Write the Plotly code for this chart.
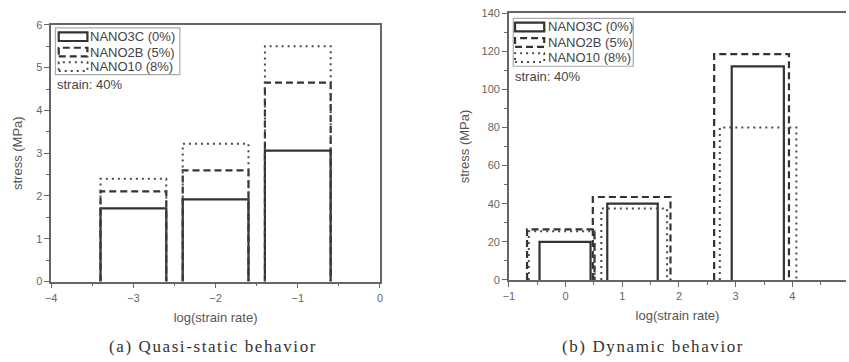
import plotly.graph_objects as go

W, H = 849, 362

series_names = ["NANO3C (0%)", "NANO2B (5%)", "NANO10 (8%)"]

# (a) Quasi-static behavior
qs_log_rate = [-3, -2, -1]
qs_bar_width = [0.8, 0.8, 0.8]
qs_nano3c = [1.71, 1.92, 3.06]
qs_nano2b = [2.11, 2.60, 4.65]
qs_nano10 = [2.40, 3.22, 5.50]

# (b) Dynamic behavior
dyn_log_rate_nano3c = [-0.01, 1.18, 3.39]
dyn_width_nano3c = [0.90, 0.89, 0.92]
dyn_nano3c = [20, 40, 112]

dyn_log_rate_nano2b = [-0.085, 1.165, 3.28]
dyn_width_nano2b = [1.19, 1.37, 1.32]
dyn_nano2b = [26.5, 43.5, 118.5]

dyn_log_rate_nano10 = [-0.07, 1.21, 3.395]
dyn_width_nano10 = [1.16, 1.16, 1.35]
dyn_nano10 = [25.5, 37.5, 80]

styles = [
    dict(color="#333333", width=2.2, dash="solid"),
    dict(color="#333333", width=2.2, dash="7px,4px"),
    dict(color="#4a4a4a", width=2.0, dash="2px,4px"),
]


def outline(xc, widths, heights):
    xs, ys = [], []
    for c, w, h in zip(xc, widths, heights):
        l, r = c - w / 2, c + w / 2
        xs += [l, l, r, r, None]
        ys += [0, h, h, 0, None]
    return xs, ys


fig = go.Figure()

qs_sets = [(qs_log_rate, qs_bar_width, qs_nano3c),
           (qs_log_rate, qs_bar_width, qs_nano2b),
           (qs_log_rate, qs_bar_width, qs_nano10)]
dyn_sets = [(dyn_log_rate_nano3c, dyn_width_nano3c, dyn_nano3c),
            (dyn_log_rate_nano2b, dyn_width_nano2b, dyn_nano2b),
            (dyn_log_rate_nano10, dyn_width_nano10, dyn_nano10)]

for name, st, (xc, w, h) in zip(series_names, styles, qs_sets):
    xs, ys = outline(xc, w, h)
    fig.add_trace(go.Scatter(x=xs, y=ys, mode="lines", name=name, line=st,
                             showlegend=False, xaxis="x", yaxis="y"))
for name, st, (xc, w, h) in zip(series_names, styles, dyn_sets):
    xs, ys = outline(xc, w, h)
    fig.add_trace(go.Scatter(x=xs, y=ys, mode="lines", name=name, line=st,
                             showlegend=False, xaxis="x2", yaxis="y2"))

axis_col = "#666666"
tick_font = dict(family="Liberation Sans, Arial", size=11, color="#666666")
title_font = dict(family="Liberation Sans, Arial", size=13, color="#555555")


def px(x):
    return x / W


def py(y):
    return 1 - y / H


common = dict(showgrid=False, zeroline=False, showline=True, linecolor=axis_col,
              linewidth=1.5, ticks="outside", ticklen=5, tickwidth=1.2,
              tickcolor=axis_col, tickfont=tick_font)

fig.update_layout(
    width=W, height=H, margin=dict(l=0, r=0, t=0, b=0),
    paper_bgcolor="white", plot_bgcolor="white",
    xaxis=dict(domain=[px(45.7), px(378)], range=[-4, 0], tickvals=[-4, -3, -2, -1, 0],
               mirror=True, anchor="y",
               minor=dict(dtick=0.5, ticks="outside", ticklen=3, tickcolor=axis_col),
               title=dict(text="log(strain rate)", font=title_font, standoff=10), **common),
    yaxis=dict(domain=[py(285), py(19.5)], range=[0, 6], dtick=1, mirror=True, anchor="x",
               minor=dict(dtick=0.5, ticks="outside", ticklen=3, tickcolor=axis_col),
               title=dict(text="stress (MPa)", font=title_font, standoff=11), **common),
    xaxis2=dict(domain=[px(508.3), 1.0], range=[-1, 4.946], tickvals=[-1, 0, 1, 2, 3, 4],
                mirror=True, anchor="y2",
                minor=dict(dtick=0.5, ticks="outside", ticklen=3, tickcolor=axis_col),
                title=dict(text="log(strain rate)", font=title_font, standoff=10), **common),
    yaxis2=dict(domain=[py(283.3), py(7.3)], range=[0, 140], dtick=20, mirror=False, anchor="x2",
                minor=dict(dtick=10, ticks="outside", ticklen=3, tickcolor=axis_col),
                title=dict(text="stress (MPa)", font=title_font, standoff=9), **common),
)

shapes = []
annotations = []
leg_font = dict(family="Liberation Sans, Arial", size=13, color="#444444")


def add_legend(box, sym_x0, sym_x1, rows, text_x, strain_xy):
    x0, y0, x1, y1 = box
    shapes.append(dict(type="rect", xref="paper", yref="paper",
                       x0=px(x0), x1=px(x1), y0=py(y1), y1=py(y0),
                       line=dict(color="#aaaaaa", width=1.2), fillcolor="rgba(0,0,0,0)"))
    for name, st, ry in zip(series_names, styles, rows):
        shapes.append(dict(type="rect", xref="paper", yref="paper",
                           x0=px(sym_x0), x1=px(sym_x1), y0=py(ry + 4.5), y1=py(ry - 4.5),
                           line=dict(color=st["color"], width=st["width"], dash=st["dash"]),
                           fillcolor="rgba(0,0,0,0)"))
        annotations.append(dict(xref="paper", yref="paper", x=px(text_x), y=py(ry),
                                xanchor="left", yanchor="middle", showarrow=False,
                                text=name, font=leg_font))
    annotations.append(dict(xref="paper", yref="paper", x=px(strain_xy[0]), y=py(strain_xy[1]),
                            xanchor="left", yanchor="middle", showarrow=False,
                            text="strain: 40%", font=leg_font))


add_legend((50, 22.7, 175.7, 71), 53.3, 82.3, [31.7, 47.7, 62.7], 83.0, (49.5, 81.7))
add_legend((512.7, 12.7, 634, 62.3), 514.5, 544, [21.7, 37.7, 53.3], 546.0, (512.0, 72.7))

cap_font = dict(family="Liberation Serif, Times New Roman", size=17, color="#333333")
annotations.append(dict(xref="paper", yref="paper", x=px(208.8), y=py(352), xanchor="center",
                        yanchor="middle", showarrow=False, font=cap_font,
                        text='<span style="letter-spacing:1.6px">(a) Quasi-static behavior</span>'))
annotations.append(dict(xref="paper", yref="paper", x=px(654), y=py(352), xanchor="center",
                        yanchor="middle", showarrow=False, font=cap_font,
                        text='<span style="letter-spacing:1.6px">(b) Dynamic behavior</span>'))

fig.update_layout(shapes=shapes, annotations=annotations)

fig.write_html("out.html")
